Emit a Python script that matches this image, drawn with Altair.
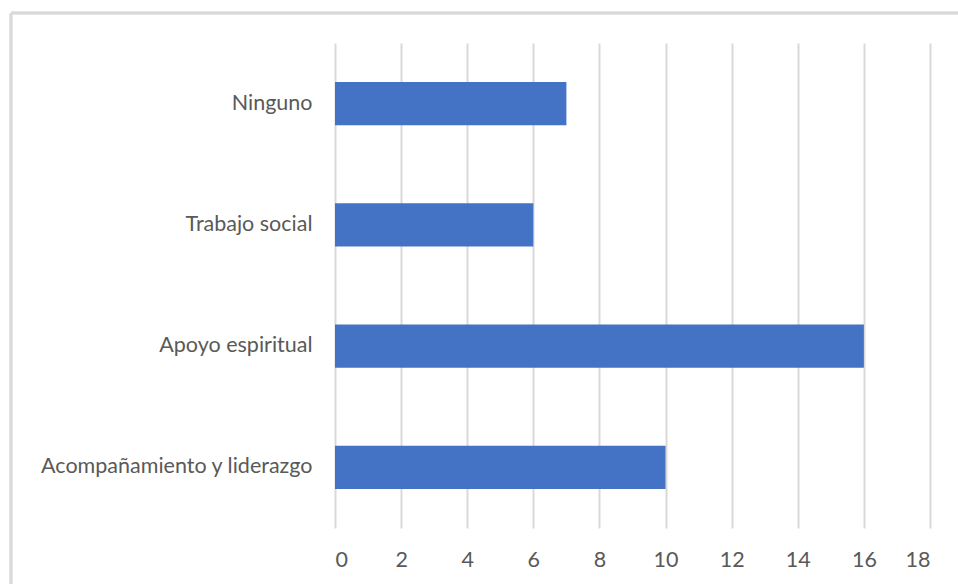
import altair as alt
import pandas as pd

# Categories (top to bottom) and their counts
categories = ["Ninguno", "Trabajo social", "Apoyo espiritual", "Acompañamiento y liderazgo"]
counts = [7, 6, 16, 10]
x_ticks = [0, 2, 4, 6, 8, 10, 12, 14, 16, 18]

df = pd.DataFrame({"categoria": categories, "valor": counts})

FONT = "Lato"
TEXT = "#595959"
GRID = "#d9d9d9"

bars = alt.Chart(df).mark_bar(color="#4472C4").encode(
    x=alt.X(
        "valor:Q",
        scale=alt.Scale(domain=[0, 18], nice=False, zero=True),
        axis=alt.Axis(
            values=x_ticks,
            title=None,
            domain=False,
            ticks=False,
            grid=True,
            gridColor=GRID,
            gridWidth=2,
            labelFont=FONT,
            labelFontSize=21.5,
            labelColor=TEXT,
            labelPadding=21,
        ),
    ),
    y=alt.Y(
        "categoria:N",
        sort=categories,
        scale=alt.Scale(paddingInner=0.645, paddingOuter=0.3225),
        axis=alt.Axis(
            title=None,
            domain=False,
            ticks=False,
            grid=False,
            labelFont=FONT,
            labelFontSize=21.5,
            labelColor=TEXT,
            labelPadding=23,
            labelLimit=400,
        ),
    ),
)

# Light frame around the chart (top and left edges)
frame_top = alt.Chart(df).mark_rule(color=GRID, strokeWidth=2.5).encode(
    x=alt.value(-324), x2=alt.value(700), y=alt.value(-30)
)
frame_left = alt.Chart(df).mark_rule(color=GRID, strokeWidth=2.5).encode(
    x=alt.value(-324), y=alt.value(-30), y2=alt.value(600)
)

chart = (
    alt.layer(bars, frame_top, frame_left)
    .properties(
        width=595,
        height=485,
        autosize=alt.AutoSizeParams(type="none"),
        padding={"left": 335, "top": 43, "right": 28, "bottom": 56},
        background="white",
    )
    .configure_view(stroke=None)
)

chart.save("out.html", embed_options={"renderer": "svg", "actions": False})
